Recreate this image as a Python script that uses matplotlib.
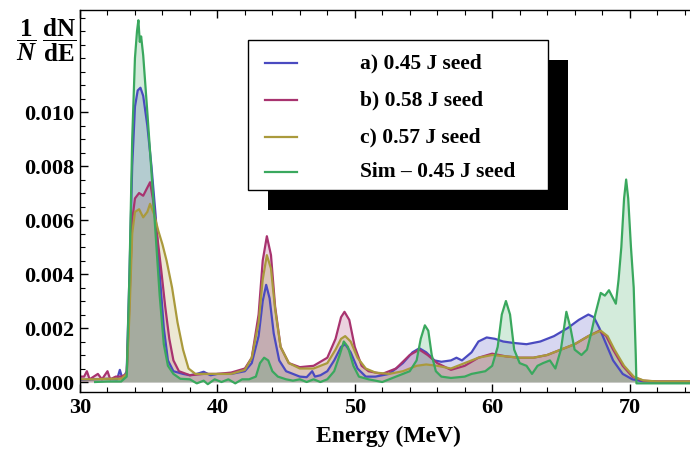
import matplotlib
matplotlib.use("Agg")
import matplotlib.pyplot as plt
from matplotlib.lines import Line2D
from matplotlib.patches import Rectangle
from matplotlib.ticker import MultipleLocator, FormatStrFormatter

plt.rcParams['font.family'] = ['Liberation Serif', 'DejaVu Serif']
plt.rcParams['font.weight'] = 'bold'
plt.rcParams['mathtext.fontset'] = 'custom'
plt.rcParams['mathtext.rm'] = 'Liberation Serif:bold'
plt.rcParams['mathtext.it'] = 'Liberation Serif:italic:bold'
plt.rcParams['mathtext.bf'] = 'Liberation Serif:bold'

labels = ["a) 0.45 J seed", "b) 0.58 J seed", "c) 0.57 J seed", "Sim \u2013 0.45 J seed"]
colors = ["#4a4ac0", "#a8336f", "#aa9a3c", "#3aa85e"]

E_a = [30.0, 31.0, 32.0, 32.7, 32.9, 33.1, 33.4, 33.6, 33.8, 34.0, 34.2, 34.4, 34.6, 34.9,
       35.2, 35.5, 35.8, 36.1, 36.4, 36.8, 37.5, 38.0, 38.5, 39.0, 39.5, 40.0, 41.0, 41.5,
       42.0, 42.5, 43.0, 43.3, 43.55, 43.8, 44.1, 44.5, 45.0, 46.0, 46.5, 46.9, 47.1, 47.5,
       48.0, 48.5, 49.0, 49.3, 49.7, 50.2, 50.8, 51.5, 52.5, 53.5, 54.2, 54.7, 55.2, 55.8,
       56.3, 57.0, 57.4, 57.8, 58.5, 59.0, 59.6, 60.2, 60.8, 61.5, 62.5, 63.5, 64.5, 65.5,
       66.3, 67.0, 67.4, 67.8, 68.3, 68.8, 69.5, 70.2, 71.0, 72.0, 74.9]
a_vals = [0.00008, 0.00010, 0.00012, 0.00010, 0.00045, 0.00010, 0.0004, 0.0040, 0.0080, 0.0102,
          0.0108, 0.0109, 0.0106, 0.0095, 0.0080, 0.0062, 0.0040, 0.0020, 0.0008, 0.0004,
          0.0003, 0.00025, 0.0003, 0.00038, 0.00025, 0.0003, 0.0003, 0.00035, 0.0004, 0.0007,
          0.0017, 0.0030, 0.0036, 0.0031, 0.0018, 0.0008, 0.0004, 0.0002, 0.00018, 0.0004,
          0.0002, 0.00025, 0.0004, 0.0008, 0.0013, 0.0014, 0.0011, 0.0005, 0.0002, 0.0002,
          0.0003, 0.0007, 0.0011, 0.00125, 0.0011, 0.0008, 0.00075, 0.0008, 0.0009, 0.0008,
          0.0011, 0.0015, 0.00165, 0.0016, 0.0015, 0.00145, 0.0014, 0.0015, 0.0017, 0.0020,
          0.0023, 0.0025, 0.0024, 0.0020, 0.0014, 0.0008, 0.0003, 0.0001, 0.00002, 0.00001,
          0.00001]

E_b = [30.0, 30.3, 30.5, 30.7, 31.0, 31.3, 31.6, 32.0, 32.2, 32.6, 33.0, 33.4, 33.6, 33.8,
       34.0, 34.3, 34.6, 34.9, 35.1, 35.3, 35.6, 35.9, 36.2, 36.5, 36.8, 37.2, 38.0, 39.0,
       40.0, 41.0, 42.0, 42.5, 43.0, 43.3, 43.6, 43.9, 44.2, 44.6, 45.2, 46.0, 47.0, 48.0,
       48.6, 49.0, 49.25, 49.6, 50.0, 50.5, 51.0, 52.0, 53.0, 54.0, 54.7, 55.3, 56.0, 57.0,
       58.0, 59.0, 60.0, 61.0, 62.0, 63.0, 64.0, 65.0, 66.0, 67.0, 67.8, 68.3, 68.8, 69.5,
       70.2, 71.0, 72.0, 74.9]
b_vals = [0.0002, 0.0002, 0.0004, 0.0001, 0.0002, 0.0003, 0.0001, 0.0004, 0.0001, 0.0002,
          0.0002, 0.0003, 0.0030, 0.0060, 0.0068, 0.0070, 0.0069, 0.0072, 0.0074, 0.0068,
          0.0055, 0.0042, 0.0028, 0.0016, 0.0008, 0.0004, 0.00025, 0.0003, 0.0003, 0.00035,
          0.0005, 0.0009, 0.0025, 0.0045, 0.0054, 0.0047, 0.0028, 0.0013, 0.0007, 0.00055,
          0.0006, 0.0009, 0.0016, 0.0024, 0.0026, 0.0023, 0.0013, 0.0006, 0.0004, 0.0003,
          0.0005, 0.0010, 0.0012, 0.0010, 0.0007, 0.00045, 0.0006, 0.0009, 0.00105, 0.00095,
          0.0009, 0.0009, 0.0010, 0.0012, 0.0014, 0.0017, 0.0019, 0.0017, 0.0012, 0.0006,
          0.0002, 0.00005, 0.00002, 0.00002]

E_c = [30.0, 31.0, 32.0, 33.0, 33.4, 33.6, 33.8, 34.0, 34.3, 34.6, 34.9, 35.1, 35.4, 35.7,
       36.0, 36.3, 36.7, 37.1, 37.5, 37.9, 38.4, 39.0, 40.0, 41.0, 42.0, 42.5, 43.0, 43.3,
       43.6, 43.9, 44.2, 44.6, 45.2, 46.0, 47.0, 48.0, 48.6, 49.0, 49.3, 49.7, 50.2, 50.8,
       51.5, 52.5, 53.5, 54.5, 55.2, 56.0, 57.0, 58.0, 59.0, 60.0, 61.0, 62.0, 63.0, 64.0,
       65.0, 66.0, 67.0, 67.9, 68.4, 68.9, 69.6, 70.3, 71.0, 72.0, 74.9]
c_vals = [0.0001, 0.0001, 0.00012, 0.00012, 0.0003, 0.0025, 0.0055, 0.0063, 0.0064, 0.0061,
          0.0063, 0.0066, 0.0062, 0.0056, 0.0051, 0.0045, 0.0035, 0.0022, 0.0012, 0.0005,
          0.0003, 0.0003, 0.0003, 0.0003, 0.00045, 0.0009, 0.0022, 0.0038, 0.0047, 0.0042,
          0.0027, 0.0013, 0.0007, 0.0005, 0.0005, 0.0007, 0.0012, 0.0016, 0.0017, 0.0015,
          0.0009, 0.0005, 0.00035, 0.0003, 0.0004, 0.0006, 0.00065, 0.0006, 0.0005, 0.0007,
          0.0009, 0.0010, 0.00095, 0.0009, 0.0009, 0.0010, 0.0012, 0.0014, 0.0017, 0.0019,
          0.0017, 0.0012, 0.0006, 0.0002, 0.00006, 0.00002, 0.00002]

E_sim = [31.1, 32.0, 33.0, 33.4, 33.6, 33.8, 34.0, 34.15, 34.25, 34.35, 34.45, 34.6, 34.9,
         35.2, 35.5, 35.8, 36.1, 36.4, 36.8, 37.3, 38.0, 38.5, 39.0, 39.3, 39.8, 40.3, 40.8,
         41.3, 41.8, 42.3, 42.8, 43.1, 43.4, 43.7, 44.0, 44.4, 45.0, 45.5, 46.0, 46.5, 47.0,
         47.5, 48.0, 48.5, 48.9, 49.2, 49.5, 49.9, 50.3, 51.0, 51.5, 52.0, 52.5, 53.0, 53.5,
         54.0, 54.5, 54.8, 55.1, 55.35, 55.6, 55.9, 56.3, 57.0, 58.0, 58.5, 59.0, 59.5, 60.0,
         60.4, 60.7, 61.0, 61.3, 61.6, 62.0, 62.5, 62.9, 63.3, 63.7, 64.2, 64.6, 65.0, 65.4,
         65.7, 66.0, 66.5, 66.9, 67.2, 67.5, 67.9, 68.2, 68.5, 68.8, 69.0, 69.2, 69.4, 69.6,
         69.75, 69.9, 70.1, 70.3, 70.45, 70.5, 71.5, 74.9]
sim_vals = [0.0, 0.00002, 0.00002, 0.0002, 0.0040, 0.0090, 0.0120, 0.0130, 0.0134, 0.0126,
            0.0128, 0.0121, 0.0100, 0.0078, 0.0055, 0.0032, 0.0014, 0.0006, 0.0003, 0.00012,
            0.0001, -0.00005, 0.00005, -0.00008, 0.0001, 0.0, 0.0001, -0.00005, 0.0001, 0.0001,
            0.0002, 0.0007, 0.0009, 0.0008, 0.0004, 0.0002, 0.0001, 0.00005, 0.0001, 0.0,
            0.0001, 0.0, 0.0001, 0.0004, 0.0010, 0.0015, 0.0013, 0.0006, 0.0002, 0.0001,
            0.00005, 0.0, 0.0001, 0.0002, 0.0003, 0.0004, 0.0008, 0.0016, 0.0021, 0.0019,
            0.0010, 0.0004, 0.0002, 0.00015, 0.0002, 0.0003, 0.00035, 0.0004, 0.0006, 0.0013,
            0.0025, 0.0030, 0.0025, 0.0012, 0.0007, 0.0006, 0.0003, 0.0006, 0.0007, 0.0008,
            0.0005, 0.0012, 0.0026, 0.0020, 0.0012, 0.0010, 0.0012, 0.0018, 0.0025, 0.0033,
            0.0032, 0.0034, 0.0031, 0.0029, 0.0038, 0.0050, 0.0068, 0.0075, 0.0068, 0.0050,
            0.0035, 0.0010, -0.00005, -0.00005, -0.00005]

series = [(E_a, a_vals), (E_b, b_vals), (E_c, c_vals), (E_sim, sim_vals)]

W, H = 690, 459
fig = plt.figure(figsize=(W / 100, H / 100), dpi=100)
ax = fig.add_axes([80 / W, 1 - 392 / H, 1 - 80 / W + 0.01, (392 - 10) / H])

for (E, v), col in zip(series, colors):
    ax.fill_between(E, v, 0, color=col, alpha=0.22, lw=0)
for (E, v), col in zip(series, colors):
    ax.plot(E, v, color=col, lw=1.6)

ax.set_xlim(30, 74.9)
ax.set_ylim(-0.00037, 0.01378)
ax.xaxis.set_major_locator(MultipleLocator(10))
ax.xaxis.set_minor_locator(MultipleLocator(2))
ax.set_yticks([0.0, 0.002, 0.004, 0.006, 0.008, 0.010])
ax.yaxis.set_minor_locator(MultipleLocator(0.0005))
ax.yaxis.set_major_formatter(FormatStrFormatter('%.3f'))
ax.tick_params(which='both', direction='in', top=True, right=False, labelsize=16, pad=4)
ax.tick_params(which='major', length=6, width=1)
ax.tick_params(which='minor', length=3.5, width=0.8)
for lab in ax.get_xticklabels() + ax.get_yticklabels():
    lab.set_fontweight('bold')
ax.spines['right'].set_visible(False)
for s in ['left', 'bottom', 'top']:
    ax.spines[s].set_linewidth(1.0)

ax.set_xlabel('Energy (MeV)', fontsize=17, fontweight='bold', labelpad=6)
fig.text(46 / W, 1 - 40 / H, r'$\dfrac{1}{\mathit{N}}\;\dfrac{\mathrm{dN}}{\mathrm{dE}}$',
         fontsize=18, ha='center', va='center')

# legend box with black drop shadow (figure pixel layout)
def fx(px):
    return px / W

def fy(py):
    return 1 - py / H

box_l, box_t, box_r, box_b = 248, 40, 548, 190
off = 20
fig.add_artist(Rectangle((fx(box_l + off), fy(box_b + off)), fx(box_r - box_l), (box_b - box_t) / H,
                         transform=fig.transFigure, facecolor='black', edgecolor='none', zorder=5))
fig.add_artist(Rectangle((fx(box_l), fy(box_b)), fx(box_r - box_l), (box_b - box_t) / H,
                         transform=fig.transFigure, facecolor='white', edgecolor='black',
                         lw=1.0, zorder=6))
row_y = [63, 100, 137, 172]
for lab, col, ry in zip(labels, colors, row_y):
    fig.add_artist(Line2D([fx(265), fx(297)], [fy(ry), fy(ry)], transform=fig.transFigure,
                          color=col, lw=1.6, zorder=7))
    fig.text(fx(360), fy(ry), lab, fontsize=15.5, fontweight='bold', ha='left', va='center',
             zorder=7)

fig.savefig('out.png', dpi=100)
